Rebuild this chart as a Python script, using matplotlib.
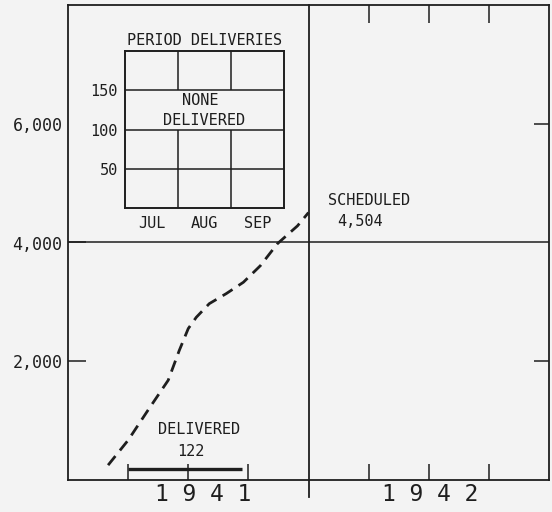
import numpy as np
import matplotlib.pyplot as plt

# cumulative scheduled deliveries, 1941 (months from 1 Jan 1941)
sched_month = [2.0, 3.0, 4.0, 5.0, 5.55, 6.0, 6.4, 7.05, 7.9, 8.75, 9.6, 10.45, 11.45, 12.0]
sched_value = [250, 670, 1180, 1680, 2180, 2550, 2740, 2970, 3140, 3330, 3610, 3980, 4280, 4504]

# delivered period bar
deliv_month = [3.0, 8.7]
deliv_value = [185, 185]

yticks = [2000, 4000, 6000]
ytick_labels = ['2,000', '4,000', '6,000']
years = ['1 9 4 1', '1 9 4 2']
year_pos = [6.75, 18.05]

# inset: period deliveries
months = ['JUL', 'AUG', 'SEP']
inset_yticks = [50, 100, 150]

ink = '#1e1e1e'
paper = '#f3f3f3'
mono = 'DejaVu Sans Mono'

fig = plt.figure(figsize=(5.52, 5.12), dpi=100, facecolor=paper)
ax = fig.add_axes([68/552, 1-480/512, 481/552, 475/512], facecolor=paper)

ax.plot(sched_month, sched_value, c=ink, lw=2.0, dashes=(4.2, 2.6))
ax.plot(deliv_month, deliv_value, c=ink, lw=2.4, solid_capstyle='butt')

ax.set_xlim(0, 24)
ax.set_ylim(0, 8000)

ax.axhline(4000, c=ink, lw=1.1)
ax.axvline(12, ymin=-0.036, ymax=1, c=ink, lw=1.3, clip_on=False)

for s in ax.spines.values():
    s.set_color(ink)
    s.set_linewidth(1.3)

ax.set_xticks([3, 6, 9, 15, 18, 21])
ax.tick_params(axis='x', direction='in', length=11.5, width=1.1, color=ink, labelbottom=False)
ax.set_yticks(yticks, ytick_labels, family=mono, fontsize=12, color=ink)
ax.tick_params(axis='y', direction='in', length=13, width=1.1, color=ink, pad=4)
ax.yaxis.get_major_ticks()[2].tick1line.set_visible(False)

top = ax.secondary_xaxis('top')
top.set_xticks([15, 18, 21])
top.tick_params(direction='in', length=13, width=1.1, color=ink, labeltop=False)
top.spines['top'].set_visible(False)

right = ax.secondary_yaxis('right')
right.set_yticks([2000, 6000])
right.tick_params(direction='in', length=11, width=1.1, color=ink, labelright=False)
right.spines['right'].set_visible(False)

for lab, xp in zip(years, year_pos):
    ax.text(xp, -0.031, lab, transform=ax.get_xaxis_transform(), ha='center', va='center',
            family=mono, fontsize=16.5, color=ink)

ax.text(6.55, 850, 'DELIVERED', ha='center', va='center', family=mono, fontsize=11, color=ink)
ax.text(6.15, 480, '122', ha='center', va='center', family=mono, fontsize=11, color=ink)
ax.text(12.95, 4700, 'SCHEDULED', ha='left', va='center', family=mono, fontsize=11, color=ink)
ax.text(13.45, 4360, '4,504', ha='left', va='center', family=mono, fontsize=11, color=ink)

# inset
ins = fig.add_axes([125/552, 1-208/512, 159/552, 157/512], facecolor=paper)
ins.set_xlim(0, 3)
ins.set_ylim(0, 200)
ins.hlines(inset_yticks, 0, 3, color=ink, lw=1.1)
ins.vlines([1, 1, 2, 2], [0, 150, 0, 150], [100, 200, 100, 200], color=ink, lw=1.1)
for s in ins.spines.values():
    s.set_color(ink)
    s.set_linewidth(1.4)
ins.set_xticks([0.5, 1.5, 2.5], months, family=mono, fontsize=11, color=ink)
ins.set_yticks(inset_yticks, [str(v) for v in inset_yticks], family=mono, fontsize=11, color=ink)
ins.tick_params(length=0, pad=6)
ins.tick_params(axis='y', pad=5)
ins.set_title('PERIOD DELIVERIES', family=mono, fontsize=11, color=ink, pad=4)
ins.text(1.42, 137, 'NONE', ha='center', va='center', family=mono, fontsize=11, color=ink)
ins.text(1.5, 111, 'DELIVERED', ha='center', va='center', family=mono, fontsize=11, color=ink)

fig.savefig('out.png', dpi=100, facecolor=paper)
